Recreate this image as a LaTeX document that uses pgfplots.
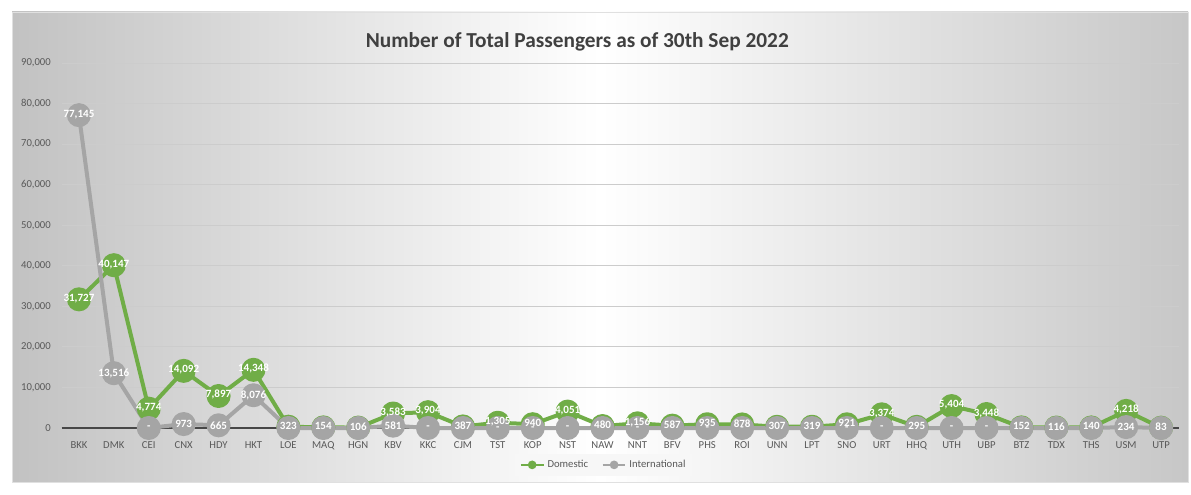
\documentclass[border=0pt]{standalone}
\usepackage{pgfplots}
\pgfplotsset{compat=1.18}
\usepackage{pgfplotstable}
\usepackage{fontspec}
\setmainfont{Carlito}
\definecolor{dom}{HTML}{70AD47}
\definecolor{intl}{HTML}{A5A5A5}
\definecolor{txt}{HTML}{595959}
\newcommand\dsh{\raisebox{-3pt}{-}}
\pgfplotstableread{
idx code dom domlab intl intllab
0 BKK 31727 31,727 77145 77,145
1 DMK 40147 40,147 13516 13,516
2 CEI 4774 4,774 0 -
3 CNX 14092 14,092 973 973
4 HDY 7897 7,897 665 665
5 HKT 14348 14,348 8076 8,076
6 LOE 323 323 0 {}
7 MAQ 154 154 0 {}
8 HGN 106 106 0 {}
9 KBV 3583 3,583 581 581
10 KKC 3904 3,904 0 -
11 CJM 387 387 0 {}
12 TST 1305 1,305 0 \dsh
13 KOP 940 940 0 \dsh
14 NST 4051 4,051 0 -
15 NAW 480 480 0 {}
16 NNT 1156 1,156 0 \dsh
17 BFV 587 587 0 {}
18 PHS 935 935 0 \dsh
19 ROI 878 878 0 \dsh
20 UNN 307 307 0 {}
21 LPT 319 319 0 {}
22 SNO 921 921 0 \dsh
23 URT 3374 3,374 0 -
24 HHQ 295 295 0 {}
25 UTH 5404 5,404 0 -
26 UBP 3448 3,448 0 -
27 BTZ 152 152 0 {}
28 TDX 116 116 0 {}
29 THS 140 140 0 {}
30 USM 4218 4,218 234 234
31 UTP 83 83 0 {}
}\data
\begin{document}
\begin{tikzpicture}
\useasboundingbox (0,0) rectangle (893.25pt,370.5pt);
\shade[left color=black!24, right color=black!22, middle color=white] (9pt,9pt) rectangle (891pt,361.5pt);
\draw[black!12, line width=0.6pt] (9pt,9pt) rectangle (891pt,361.5pt);
\node[font=\bfseries\fontsize{16}{19}\selectfont, text=black!75] at (433pt,339pt) {Number of Total Passengers as of 30th Sep 2022};
\begin{axis}[
  at={(46.125pt,49.5pt)}, anchor=south west,
  scale only axis, width=837.75pt, height=273.75pt,
  xmin=-0.5, xmax=31.5, ymin=0, ymax=90000,
  clip=false,
  axis x line*=bottom, axis y line*=left,
  y axis line style={draw=none},
  x axis line style={black!72, line width=0.8pt, -},
  tick style={draw=none}, major tick length=0pt,
  ytick={0,10000,...,90000},
  scaled ticks=false,
  /pgf/number format/1000 sep={,},
  /pgf/number format/assume math mode=true,
  ymajorgrids, grid style={black!20, line width=0.75pt},
  yticklabel style={font=\fontsize{8}{9}\selectfont, text=txt, xshift=-4.5pt},
  xtick={0,...,31},
  xticklabels={BKK,DMK,CEI,CNX,HDY,HKT,LOE,MAQ,HGN,KBV,KKC,CJM,TST,KOP,NST,NAW,NNT,BFV,PHS,ROI,UNN,LPT,SNO,URT,HHQ,UTH,UBP,BTZ,TDX,THS,USM,UTP},
  xticklabel style={font=\fontsize{8}{9}\selectfont, text=txt, yshift=-6.5pt},
  legend style={at={(rel axis cs:0.4855,-0.101)}, anchor=center, draw=none, fill=black!3,
    font=\fontsize{8}{9}\selectfont, text=txt, inner sep=3pt},
  legend columns=2,
  legend cell align=left,
  /tikz/every even column/.append style={column sep=8pt},
  legend image post style={line width=2pt},
]
\addplot[dom, line width=3pt, line join=round, mark=*, mark size=7.5pt, mark options={draw=none, fill=dom}, forget plot]
  table[x=idx, y=dom]{\data};
\addplot[intl, line width=3pt, line join=round, mark=*, mark size=7.5pt, mark options={draw=none, fill=intl}, forget plot]
  table[x=idx, y=intl]{\data};
\addplot[draw=none, mark=none, forget plot, nodes near coords, point meta=explicit symbolic,
  every node near coord/.append style={anchor=center, text=white, font=\bfseries\fontsize{8.3}{9}\selectfont, inner sep=0pt, yshift=0.8pt}]
  table[x=idx, y=dom, meta=domlab]{\data};
\addplot[draw=none, mark=none, forget plot, nodes near coords, point meta=explicit symbolic,
  every node near coord/.append style={anchor=center, text=white, font=\bfseries\fontsize{8.3}{9}\selectfont, inner sep=0pt}]
  table[x=idx, y=intl, meta=intllab]{\data};
\addlegendimage{dom, line width=2pt, mark=*, mark size=2.2pt, mark options={draw=none, fill=dom}}
\addlegendentry{Domestic}
\addlegendimage{intl, line width=2pt, mark=*, mark size=2.2pt, mark options={draw=none, fill=intl}}
\addlegendentry{International}
\end{axis}
\end{tikzpicture}
\end{document}
